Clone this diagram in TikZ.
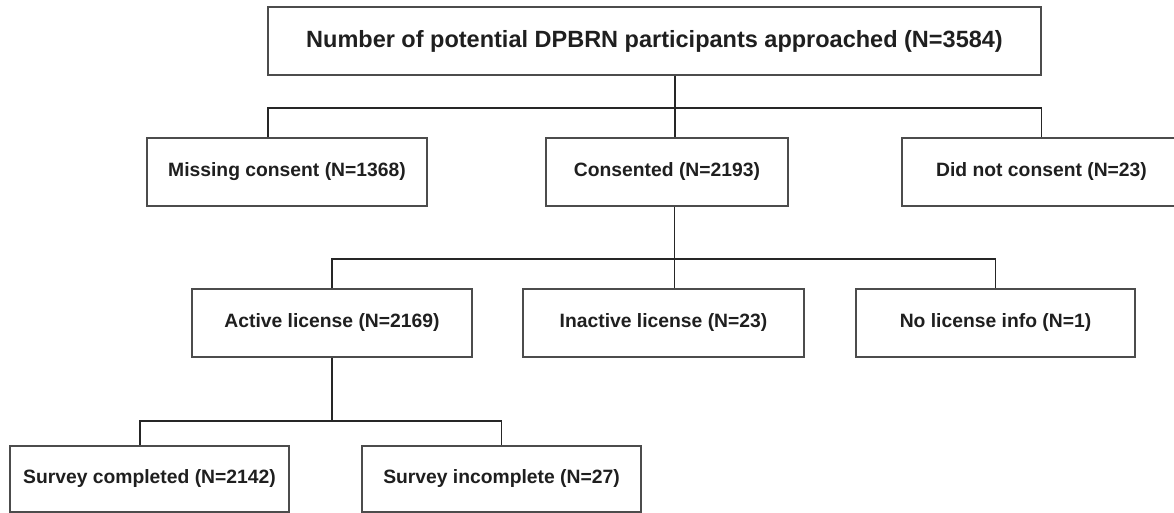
\documentclass[tikz,border=0pt]{standalone}
\usepackage{fontspec}
\setmainfont{Liberation Sans}
\usetikzlibrary{positioning}

\begin{document}
\begin{tikzpicture}[x=1pt, y=-1pt,
    stagebox/.style={draw=black!70, line width=1.3pt, fill=white, text=black!88,
        font=\bfseries\fontsize{19.3}{23}\selectfont,
        minimum width=280pt, minimum height=68pt, inner sep=0pt},
    link/.style={draw=black!85, line width=1.9pt}]
    %%%%% START %%%%%

    \useasboundingbox (0, 0) rectangle (1174, 513);

    \node[stagebox, minimum width=773pt, font=\bfseries\fontsize{23.5}{28}\selectfont] (approached) at (654.5, 41) {Number of potential DPBRN participants approached (N=3584)};

    \node[stagebox] (missing) at (287, 172) {Missing consent (N=1368)};
    \node[stagebox, minimum width=242pt] (consented) at (667, 172) {Consented (N=2193)};
    \node[stagebox, minimum width=279pt] (refused) at (1041.5, 172) {Did not consent (N=23)};

    \node[stagebox] (active) at (332, 323) {Active license (N=2169)};
    \node[stagebox, minimum width=281pt] (inactive) at (663.5, 323) {Inactive license (N=23)};
    \node[stagebox, minimum width=279pt] (nolicense) at (995.5, 323) {No license info (N=1)};

    \node[stagebox, minimum width=279pt, minimum height=66pt] (completed) at (149.5, 479) {Survey completed (N=2142)};
    \node[stagebox, minimum width=279pt, minimum height=66pt] (incomplete) at (501.5, 479) {Survey incomplete (N=27)};

    % junctions of the branches
    \coordinate (split0) at (675, 108);
    \coordinate (drop0) at (268, 108);
    \coordinate (split1) at (674.5, 259);
    \coordinate (split2) at (332, 421);
    \coordinate (drop2) at (140, 421);

    \draw[link] (approached.south -| split0) -- (consented.north -| split0);
    \draw[link] (missing.north -| drop0) -- (drop0) -- (split0) -| (refused.north);

    \draw[link] (consented.south -| split1) -- (inactive.north -| split1);
    \draw[link] (active.north) |- (split1) -| (nolicense.north);

    \draw[link] (active.south) -- (split2);
    \draw[link] (completed.north -| drop2) -- (drop2) -- (split2) -| (incomplete.north);

    %%%%% END %%%%%
\end{tikzpicture}
\end{document}
